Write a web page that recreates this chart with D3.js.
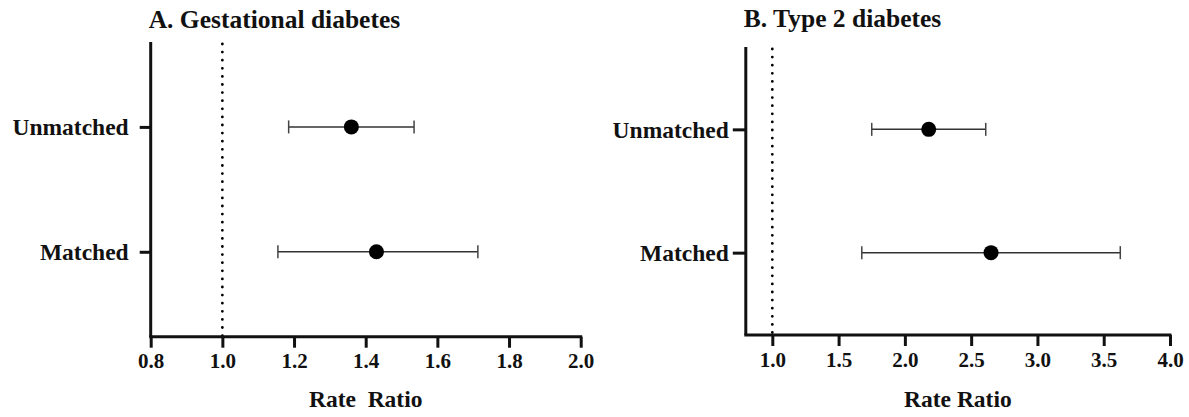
<!DOCTYPE html>
<html>
<head>
<meta charset="utf-8">
<script src="https://cdn.jsdelivr.net/npm/d3@7"></script>
<style>
  html,body{margin:0;padding:0;background:#fff;}
  svg{display:block;}
  text{font-family:"Liberation Serif","Times New Roman",serif;font-weight:bold;fill:#111;}
</style>
</head>
<body>
<svg id="chart" width="1189" height="417"></svg>
<script>
"use strict";
// два форест-плота: rate ratio с 95% ДИ
const groups = ["Unmatched","Matched"];
const gdmEst = [1.36, 1.43];
const gdmLo  = [1.185, 1.155];
const gdmHi  = [1.535, 1.713];
const t2dEst = [2.18, 2.65];
const t2dLo  = [1.75, 1.675];
const t2dHi  = [2.61, 3.625];
const gdmTicks = [0.8,1.0,1.2,1.4,1.6,1.8,2.0];
const t2dTicks = [1.0,1.5,2.0,2.5,3.0,3.5,4.0];

const svg = d3.select("#chart");

function panel(o){
  const g = svg.append("g");
  const x = d3.scaleLinear().domain(o.xdom).range([o.x0, o.x1]);
  const y = d3.scalePoint().domain(groups).range([o.y0, o.y1]).padding(o.pad);

  // референсная линия RR = 1
  g.append("line").attr("x1",x(1)).attr("x2",x(1)).attr("y1",o.y0+2).attr("y2",o.y1)
    .attr("stroke","#000").attr("stroke-width",2.8).attr("stroke-linecap","round")
    .attr("stroke-dasharray","0 8.1");

  const xa = g.append("g").attr("transform",`translate(0,${o.y1})`)
    .call(d3.axisBottom(x).tickValues(o.ticks).tickFormat(d3.format(".1f")).tickSize(11).tickSizeOuter(0));
  xa.select(".domain").attr("d",`M${o.x0-1.5},0H${o.x1+1.5}`);
  xa.selectAll(".tick line").attr("stroke-width",3);
  xa.selectAll(".tick text").attr("y",31.5).attr("dy",0).style("font-size","21px");

  const ya = g.append("g").attr("transform",`translate(${o.x0},0)`)
    .call(d3.axisLeft(y).tickSize(o.ytick).tickPadding(o.ypad).tickSizeOuter(0));
  ya.select(".domain").attr("d",`M0,${o.y0}V${o.y1}`);
  ya.selectAll(".tick line").attr("stroke-width",3);
  ya.selectAll(".tick text").style("font-size","23.5px").attr("dy","0.33em");

  g.selectAll(".domain").attr("stroke","#111").attr("stroke-width",3);
  g.selectAll(".tick line").attr("stroke","#111");
  g.selectAll(".tick text").attr("fill","#111").attr("font-family",null);

  const rows = groups.map((k,i)=>({k, est:o.est[i], lo:o.lo[i], hi:o.hi[i]}));
  const r = g.append("g").selectAll("g").data(rows).join("g").attr("transform",(d)=>`translate(0,${y(d.k)})`);
  r.append("line").attr("x1",(d)=>x(d.lo)).attr("x2",(d)=>x(d.hi)).attr("stroke","#333").attr("stroke-width",1.5);
  r.append("line").attr("x1",(d)=>x(d.lo)).attr("x2",(d)=>x(d.lo)).attr("y1",-6.5).attr("y2",6.5).attr("stroke","#444").attr("stroke-width",1.5);
  r.append("line").attr("x1",(d)=>x(d.hi)).attr("x2",(d)=>x(d.hi)).attr("y1",-6.5).attr("y2",6.5).attr("stroke","#444").attr("stroke-width",1.5);
  r.append("circle").attr("cx",(d)=>x(d.est)).attr("r",7.5).attr("fill","#000");

  g.append("text").attr("x",o.x0-2).attr("y",o.ty).style("font-size","25.5px").text(o.title);
  g.append("text").attr("x",(o.x0+o.x1)/2).attr("y",407).attr("text-anchor","middle")
    .style("font-size","23.5px").attr("xml:space","preserve").text(o.xlab);
}

panel({x0:150.7, x1:580.7, xdom:[0.8,2.0], ticks:gdmTicks, y0:42, y1:336.7, pad:0.68,
  ytick:11, ypad:11, est:gdmEst, lo:gdmLo, hi:gdmHi, title:"A. Gestational diabetes", ty:28, xlab:"Rate  Ratio"});
panel({x0:745.8, x1:1170, xdom:[0.8,4.0], ticks:t2dTicks, y0:47, y1:335, pad:0.668,
  ytick:13, ypad:4, est:t2dEst, lo:t2dLo, hi:t2dHi, title:"B. Type 2 diabetes", ty:27, xlab:"Rate Ratio"});
</script>
</body>
</html>
